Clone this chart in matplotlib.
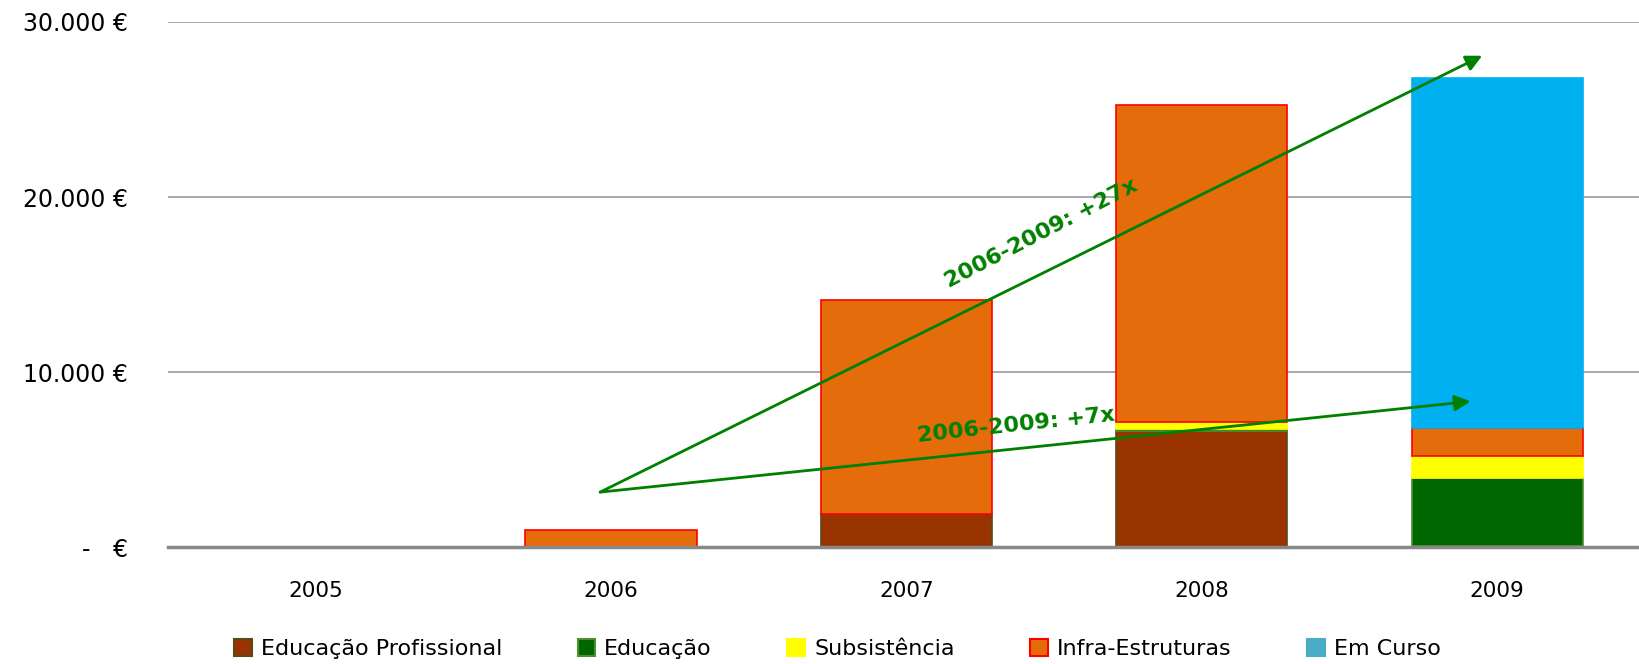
import matplotlib.pyplot as plt
import numpy as np

years = ['2005', '2006', '2007', '2008', '2009']
ed_profissional = [0, 0, 1900, 6650, 100]
educacao = [0, 0, 0, 110, 3850]
subsistencia = [0, 0, 0, 420, 1280]
infra_estruturas = [0, 1000, 12210, 18090, 1580]
em_curso = [0, 0, 0, 0, 20000]

series = [
    ('Educação Profissional', ed_profissional, '#993300', '#5a4a1a'),
    ('Educação', educacao, '#006600', '#4f8f2f'),
    ('Subsistência', subsistencia, '#FFFF00', '#FFFF00'),
    ('Infra-Estruturas', infra_estruturas, '#E46C0A', '#FF0000'),
    ('Em Curso', em_curso, '#00B0F0', '#00B0F0'),
]

# arrows: (start x, start y) -> (end x, end y), label, label pos, rotation
arrow_start = (0.963, 3150)
arrows = [
    ((3.949, 28070), '2006-2009: +27x', (2.455, 17950), 27.4),
    ((3.91, 8330), '2006-2009: +7x', (2.37, 6950), 6.2),
]

fig = plt.figure(figsize=(16.39, 6.64), dpi=100)
ax = fig.add_axes([168 / 1639, 0.1758, 1 - 168 / 1639, 0.9669 - 0.1758])

x = np.arange(len(years))
bottom = np.zeros(len(years))
handles = []
for name, vals, col, edge in series:
    vals = np.array(vals, dtype=float)
    lws = [1.2 if v > 0 else 0 for v in vals]
    b = ax.bar(x, vals, 0.58, bottom=bottom, color=col, edgecolor=edge,
               linewidth=lws, label=name, zorder=3)
    bottom += vals
    handles.append(b)

for (end, txt, pos, rot) in arrows:
    ax.annotate('', xy=end, xytext=arrow_start,
                arrowprops=dict(arrowstyle='-|>', color='#008000', lw=2,
                                mutation_scale=24, shrinkA=0, shrinkB=0),
                zorder=5)
    ax.text(pos[0], pos[1], txt, rotation=rot, color='#008000', fontsize=16,
            fontweight='bold', ha='center', va='center', rotation_mode='anchor',
            zorder=6)

ax.set_xlim(-0.5, 4.48)
ax.set_ylim(0, 30000)
ax.set_yticks([0, 10000, 20000, 30000])
ax.set_yticklabels(['-   €', '10.000 €', '20.000 €', '30.000 €'])
ax.set_xticks(x)
ax.set_xticklabels(years)
ax.tick_params(axis='y', length=0, pad=29, labelsize=17)
ax.tick_params(axis='x', length=0, pad=24, labelsize=15.5)
ax.grid(axis='y', color='#999999', lw=1.2, zorder=0)
for s in ['top', 'right', 'left']:
    ax.spines[s].set_visible(False)
ax.spines['bottom'].set_color('#888888')
ax.spines['bottom'].set_linewidth(2.5)
ax.spines['bottom'].set_zorder(4)

leg = ax.legend(handles=handles, loc='center', bbox_to_anchor=(0.455, -0.194),
                ncol=5, frameon=False, handlelength=0.8, handleheight=0.8,
                columnspacing=3.4, handletextpad=0.4,
                prop={'size': 16})
for h, (name, vals, col, edge) in zip(leg.legend_handles, series):
    h.set_linewidth(1.5)
    h.set_edgecolor(edge)
leg.legend_handles[4].set_facecolor('#4BACC6')
leg.legend_handles[4].set_edgecolor('#4BACC6')

fig.savefig('out.png', dpi=100)
